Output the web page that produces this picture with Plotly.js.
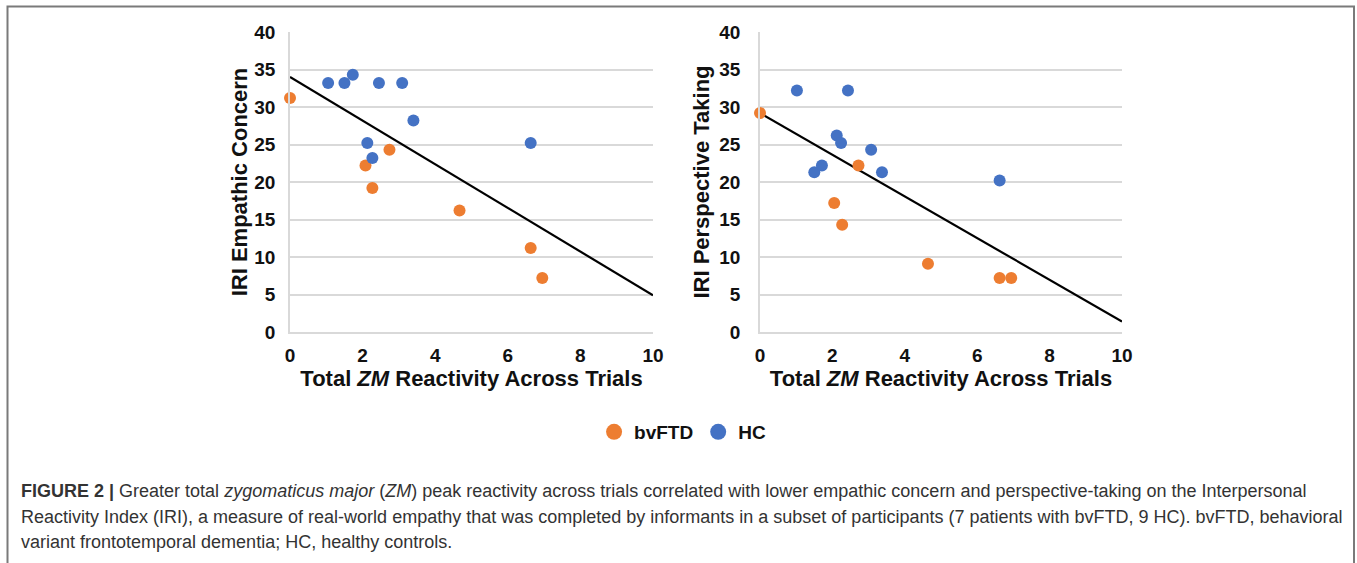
<!DOCTYPE html>
<html>
<head>
<meta charset="utf-8">
<script src="https://cdn.plot.ly/plotly-3.0.1.min.js"></script>
<style>
html,body{margin:0;padding:0;background:#fff;}
#chart{width:1357px;height:563px;}
</style>
</head>
<body>
<div id="chart"></div>
<script>
// ---- Data ----
// Left panel: IRI Empathic Concern vs total ZM reactivity
var ecBvftdX = [0.0, 2.08, 2.27, 2.74, 4.67, 6.63, 6.95];
var ecBvftdY = [31.2, 22.2, 19.2, 24.3, 16.2, 11.2, 7.2];
var ecHcX = [1.05, 1.50, 1.73, 2.45, 3.09, 3.40, 2.13, 2.27, 6.63];
var ecHcY = [33.2, 33.2, 34.3, 33.2, 33.2, 28.2, 25.2, 23.2, 25.2];
// Right panel: IRI Perspective Taking vs total ZM reactivity
var ptBvftdX = [0.0, 2.72, 2.05, 2.27, 4.64, 6.62, 6.94];
var ptBvftdY = [29.2, 22.2, 17.2, 14.3, 9.1, 7.2, 7.2];
var ptHcX = [1.02, 2.43, 2.12, 2.24, 3.07, 3.37, 1.50, 1.71, 6.62];
var ptHcY = [32.2, 32.2, 26.2, 25.2, 24.3, 21.3, 21.3, 22.2, 20.2];
// Trend lines (endpoints)
var trendX = [0, 10];
var trendEcY = [34.0, 4.9];
var trendPtY = [29.2, 1.4];
// Labels
var groupNames = ['bvFTD', 'HC'];
var xTickVals = [0, 2, 4, 6, 8, 10];
var yTickVals = [0, 5, 10, 15, 20, 25, 30, 35, 40];
var xTitle = 'Total <i>ZM</i> Reactivity Across Trials';
var yTitleLeft = 'IRI Empathic Concern';
var yTitleRight = 'IRI Perspective Taking';
var captionLines = [
  '<b>FIGURE 2 |</b> Greater total <i>zygomaticus major</i> (<i>ZM</i>) peak reactivity across trials correlated with lower empathic concern and perspective-taking on the Interpersonal',
  'Reactivity Index (IRI), a measure of real-world empathy that was completed by informants in a subset of participants (7 patients with bvFTD, 9 HC). bvFTD, behavioral',
  'variant frontotemporal dementia; HC, healthy controls.'
];

// ---- Styling ----
var W = 1357, H = 563;
var ORANGE = '#ED7D31', BLUE = '#4472C4';
var FONT = '"Liberation Sans", Arial, Helvetica, sans-serif';
var GRID = '#d9d9d9';

function px(x){ return x / W; }
function py(y){ return 1 - y / H; }

function scatter(x, y, color, xa, ya){
  return {x: x, y: y, type: 'scatter', mode: 'markers', xaxis: xa, yaxis: ya,
    marker: {color: color, size: 12}, showlegend: false, cliponaxis: false, hoverinfo: 'x+y'};
}
function trend(y, xa, ya){
  return {x: trendX, y: y, type: 'scatter', mode: 'lines', xaxis: xa, yaxis: ya,
    line: {color: '#000', width: 2.2}, showlegend: false, cliponaxis: false, hoverinfo: 'skip'};
}

var traces = [
  trend(trendEcY, 'x', 'y'),
  trend(trendPtY, 'x2', 'y2'),
  scatter(ecBvftdX, ecBvftdY, ORANGE, 'x', 'y'),
  scatter(ecHcX, ecHcY, BLUE, 'x', 'y'),
  scatter(ptBvftdX, ptBvftdY, ORANGE, 'x2', 'y2'),
  scatter(ptHcX, ptHcY, BLUE, 'x2', 'y2'),
  // legend entries
  {x: [null], y: [null], type: 'scatter', mode: 'markers', name: groupNames[0],
    marker: {color: ORANGE, size: 16}, xaxis: 'x', yaxis: 'y'},
  {x: [null], y: [null], type: 'scatter', mode: 'markers', name: groupNames[1],
    marker: {color: BLUE, size: 16}, xaxis: 'x', yaxis: 'y'}
];

function xAxis(domain, anchor){
  return {domain: domain, anchor: anchor, range: [0, 10], tickvals: xTickVals,
    showgrid: false, zeroline: false, showline: true, linecolor: GRID, linewidth: 1.5,
    ticks: '', ticklabelstandoff: 5, automargin: false, fixedrange: true,
    tickfont: {family: FONT, size: 19, color: '#111', weight: 'bold'},
    title: {text: xTitle, standoff: 3, font: {family: FONT, size: 22, color: '#111', weight: 'bold'}}};
}
function yAxis(domain, anchor, title, standoffLab, titleStandoff){
  return {domain: domain, anchor: anchor, range: [0, 40], tickvals: yTickVals,
    showgrid: true, gridcolor: GRID, gridwidth: 1.5, zeroline: false,
    showline: true, linecolor: GRID, linewidth: 1.5,
    ticks: '', ticklabelstandoff: standoffLab, automargin: false, fixedrange: true,
    tickfont: {family: FONT, size: 19, color: '#111', weight: 'bold'},
    title: {text: title, standoff: titleStandoff, font: {family: FONT, size: 22, color: '#111', weight: 'bold'}}};
}

var yDom = [py(332), py(32)];
var layout = {
  width: W, height: H,
  margin: {l: 0, r: 0, t: 0, b: 0, pad: 0},
  paper_bgcolor: '#fff', plot_bgcolor: 'rgba(0,0,0,0)',
  font: {family: FONT, color: '#111'},
  xaxis: xAxis([px(290), px(653)], 'y'),
  yaxis: yAxis(yDom, 'x', yTitleLeft, 9, 1),
  xaxis2: xAxis([px(760), px(1122)], 'y2'),
  yaxis2: yAxis(yDom, 'x2', yTitleRight, 14, 4),
  showlegend: true,
  legend: {orientation: 'h', x: 0.503, xanchor: 'center', y: py(432), yanchor: 'middle',
    bgcolor: 'rgba(0,0,0,0)', font: {family: FONT, size: 19, color: '#111', weight: 'bold'},
    itemclick: false, itemdoubleclick: false},
  shapes: [
    {type: 'rect', xref: 'paper', yref: 'paper', x0: px(7.5), x1: px(1354), y0: -0.05, y1: py(6.5),
      line: {color: '#7a7a7a', width: 2}, fillcolor: 'rgba(0,0,0,0)', layer: 'below'}
  ],
  annotations: captionLines.map(function(t, i){
    return {text: t, xref: 'paper', yref: 'paper', x: px(19), y: py(491 + 25.5 * i),
      xanchor: 'left', yanchor: 'middle', showarrow: false, align: 'left',
      font: {family: FONT, size: 18, color: '#333'}};
  })
};

Plotly.newPlot('chart', traces, layout, {displayModeBar: false, staticPlot: false, responsive: false});
</script>
</body>
</html>
